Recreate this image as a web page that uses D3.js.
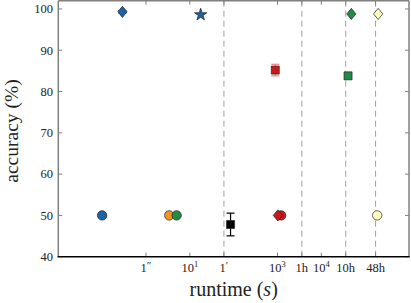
<!DOCTYPE html>
<html><head><meta charset="utf-8">
<script src="https://cdn.jsdelivr.net/npm/d3@7"></script>
<style>body{margin:0;background:#fff}svg{display:block}text{font-family:"Liberation Serif","Times New Roman",serif}</style>
</head><body><svg id="c" width="411" height="303"></svg>
<script>
// ---- data ----
const runtime  = [0.29, 17.7, 0.1, 3.4, 5.0, 85, 890, 1210, 1020, 40700, 48400, 198000, 188000];
const accuracy = [99.3, 98.6, 50, 50, 50, 47.8, 85.2, 50, 50, 83.8, 98.8, 98.8, 50];
const errors   = [0.3, 0, 0, 0, 0, 2.75, 1.4, 0, 0, 0, 0, 0, 0];
const shapes   = ["diamond","star","circle","circle","circle","square","square","circle","diamond","square","diamond","diamond","circle"];
const colors   = ["#1a63a8","#1a63a8","#1a63a8","#f7941d","#238b45","#000000","#cb181d","#cb181d","#cb181d","#238b45","#238b45","#ffffc0","#ffffc0"];
const errColors= ["#1a63a8","#1a63a8","#1a63a8","#f7941d","#238b45","#000000","#f08080","#cb181d","#cb181d","#238b45","#238b45","#ffffc0","#ffffc0"];
const xTickValues = [1, 10, 60, 1000, 3600, 10000, 36000, 172800];
const xTickLabels = [["1","″"],["10","1"],["1","′"],["10","3"],["1h",""],["10","4"],["10h",""],["48h",""]];
const dashedAt = [60, 3600, 36000, 172800];
const yTickValues = [40, 50, 60, 70, 80, 90, 100];

const svg = d3.select("#c");
const L = 58.3, R = 409, T = 0.7, B = 256.7;
const x = d3.scaleLog().domain([1e-2, 1e6]).range([L, R]);
const y = d3.scaleLinear().domain([40, 102]).range([B, T]);

// dashed verticals
svg.append("g").selectAll("line").data(dashedAt).join("line")
  .attr("x1", d => x(d)).attr("x2", d => x(d)).attr("y1", T).attr("y2", B)
  .attr("stroke", "#a0a0a0").attr("stroke-width", 1).attr("stroke-dasharray", "6,4");

// ticks (inward, all sides)
const tk = svg.append("g").attr("stroke", "#808080").attr("stroke-width", 1);
xTickValues.forEach(v => {
  tk.append("line").attr("x1", x(v)).attr("x2", x(v)).attr("y1", B).attr("y2", B - 4);
  tk.append("line").attr("x1", x(v)).attr("x2", x(v)).attr("y1", T).attr("y2", T + 4);
});
yTickValues.forEach(v => {
  tk.append("line").attr("x1", L).attr("x2", L + 4).attr("y1", y(v)).attr("y2", y(v));
  tk.append("line").attr("x1", R).attr("x2", R - 4).attr("y1", y(v)).attr("y2", y(v));
});

// spines
svg.append("line").attr("x1", L).attr("x2", L).attr("y1", T).attr("y2", B).attr("stroke", "#808080").attr("stroke-width", 1.5);
svg.append("line").attr("x1", R).attr("x2", R).attr("y1", T).attr("y2", B).attr("stroke", "#808080").attr("stroke-width", 1.5);
svg.append("line").attr("x1", L).attr("x2", R).attr("y1", T).attr("y2", T).attr("stroke", "#808080").attr("stroke-width", 1.5);
svg.append("line").attr("x1", L - 0.75).attr("x2", R + 0.75).attr("y1", B).attr("y2", B).attr("stroke", "#000").attr("stroke-width", 1.5);

// tick labels
const xl = svg.append("g").attr("font-size", 12.5).attr("fill", "#222");
xTickValues.forEach((v, i) => {
  const t = xl.append("text").attr("x", x(v)).attr("y", 271.5).attr("text-anchor", "middle");
  t.append("tspan").text(xTickLabels[i][0]);
  if (xTickLabels[i][1]) {
    const prime = xTickLabels[i][0] === "1";
    t.append("tspan").attr("font-size", prime ? 11 : 8.5).attr("dy", prime ? -3 : -5).text(xTickLabels[i][1]);
  }
});
svg.append("g").attr("font-size", 12.5).attr("fill", "#222").selectAll("text").data(yTickValues).join("text")
  .attr("x", 53).attr("y", d => y(d) + 4.3).attr("text-anchor", "end").text(d => d);

// axis labels
const xt = svg.append("text").attr("x", (L + R) / 2).attr("y", 296).attr("text-anchor", "middle").attr("font-size", 20).attr("fill", "#222");
xt.append("tspan").text("runtime (");
xt.append("tspan").attr("font-style", "italic").text("s");
xt.append("tspan").text(")");
svg.append("text").attr("transform", "translate(18,131) rotate(-90)").attr("text-anchor", "middle")
  .attr("font-size", 19.5).attr("fill", "#222").text("accuracy (%)");

// error bars
const eb = svg.append("g");
runtime.forEach((r, i) => {
  if (!errors[i]) return;
  const cx = x(r), y1 = y(accuracy[i] + errors[i]), y2 = y(accuracy[i] - errors[i]);
  eb.append("line").attr("x1", cx).attr("x2", cx).attr("y1", y1).attr("y2", y2).attr("stroke", errColors[i]).attr("stroke-width", 1.2);
  [y1, y2].forEach(yy => eb.append("line").attr("x1", cx - 4).attr("x2", cx + 4).attr("y1", yy).attr("y2", yy).attr("stroke", errColors[i]).attr("stroke-width", 1.2));
});

// markers
const shapePath = {
  circle: d3.symbol(d3.symbolCircle, Math.PI * 4.7 * 4.7)(),
  square: "M-4,-4H4V4H-4Z",
  diamond: "M0,-5.6L4.6,0L0,5.6L-4.6,0Z",
  star: d3.symbol(d3.symbolStar, 48)()
};
svg.append("g").selectAll("path").data(runtime.map((r, i) => i)).join("path")
  .attr("transform", i => `translate(${x(runtime[i])},${y(accuracy[i])})`)
  .attr("d", i => shapePath[shapes[i]])
  .attr("fill", i => colors[i]).attr("stroke", "#222").attr("stroke-width", 0.7);
</script></body></html>
